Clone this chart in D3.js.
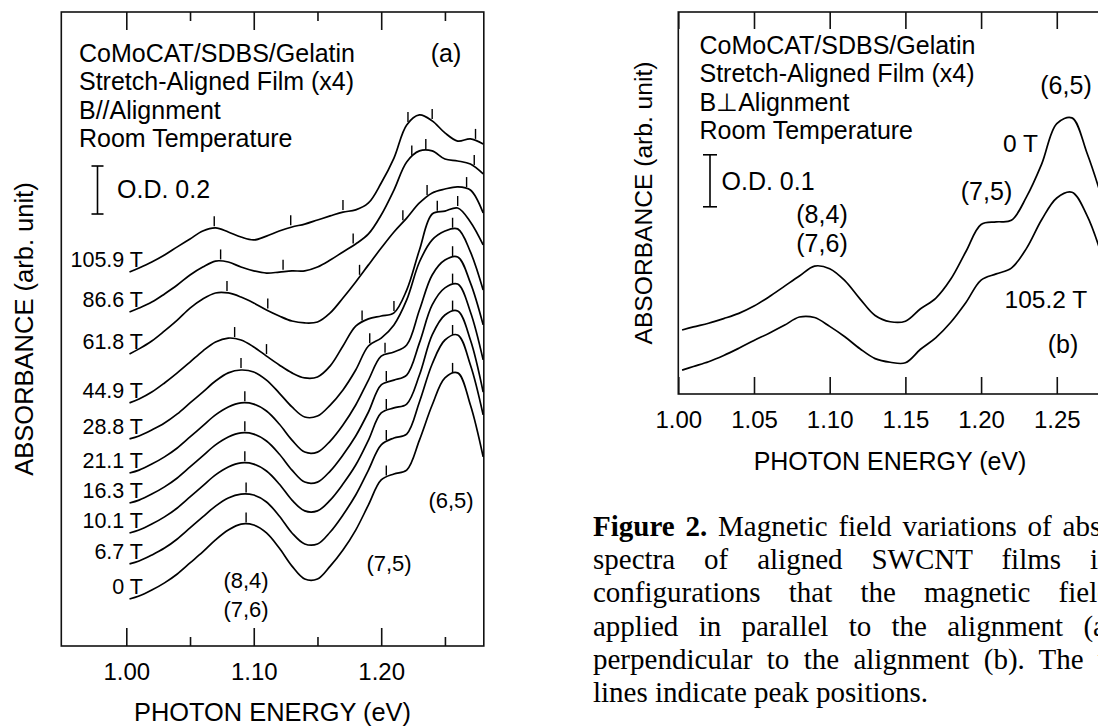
<!DOCTYPE html>
<html>
<head>
<meta charset="utf-8">
<script src="https://cdn.jsdelivr.net/npm/d3@7.9.0/dist/d3.min.js"></script>
<style>
  body { margin: 0; background: #fff; width: 1098px; height: 727px; overflow: hidden; position: relative; }
  svg { position: absolute; left: 0; top: 0; }
  text { font-family: "Liberation Sans", Arial, sans-serif; fill: #000; }
  .caption { position: absolute; left: 593px; top: 510px; width: 592px;
    font-family: "Liberation Serif", "Times New Roman", serif; font-size: 29px; line-height: 33.2px; color: #000; }
  .caption div { text-align: justify; text-align-last: justify; }
  .caption div.last { text-align-last: left; }
</style>
</head>
<body>
<svg id="chart"></svg>
<div class="caption">
  <div><b>Figure 2.</b> Magnetic field variations of absorption</div>
  <div>spectra of aligned SWCNT films in two</div>
  <div>configurations that the magnetic field was</div>
  <div>applied in parallel to the alignment (a), and</div>
  <div>perpendicular to the alignment (b). The vertical</div>
  <div class="last">lines indicate peak positions.</div>
</div>
<script>
// photon energy grid (eV), shared by every spectrum
const energies = [1.0025, 1.01, 1.02, 1.03, 1.04, 1.05, 1.06, 1.07, 1.08, 1.09, 1.10, 1.11, 1.12, 1.13, 1.14,
  1.15, 1.16, 1.17, 1.18, 1.19, 1.20, 1.21, 1.22, 1.23, 1.24, 1.25, 1.26, 1.27, 1.28];

// panel (a): B // alignment, stacked absorbance (O.D., offset included)
const fieldsA = ['0 T', '6.7 T', '10.1 T', '16.3 T', '21.1 T', '28.8 T', '44.9 T', '61.8 T', '86.6 T', '105.9 T'];
const absA_0 = [0.196, 0.208, 0.233, 0.263, 0.300, 0.346, 0.392, 0.442, 0.483, 0.508, 0.504, 0.471, 0.408, 0.333, 0.279,
  0.279, 0.333, 0.400, 0.483, 0.588, 0.692, 0.717, 0.733, 0.858, 1.004, 1.117, 1.138, 1.004, 0.788];
const absA_6_7 = [0.342, 0.354, 0.379, 0.408, 0.446, 0.492, 0.538, 0.583, 0.617, 0.633, 0.629, 0.600, 0.542, 0.471, 0.425,
  0.425, 0.475, 0.546, 0.629, 0.733, 0.838, 0.867, 0.883, 1.017, 1.175, 1.275, 1.296, 1.171, 0.963];
const absA_10_1 = [0.471, 0.483, 0.508, 0.538, 0.575, 0.621, 0.667, 0.713, 0.746, 0.763, 0.758, 0.729, 0.675, 0.608, 0.563,
  0.563, 0.608, 0.675, 0.754, 0.858, 0.971, 0.992, 1.008, 1.129, 1.296, 1.379, 1.396, 1.275, 1.058];
const absA_16_3 = [0.596, 0.608, 0.633, 0.663, 0.700, 0.746, 0.792, 0.838, 0.871, 0.888, 0.883, 0.854, 0.800, 0.733, 0.683,
  0.683, 0.729, 0.796, 0.875, 0.975, 1.088, 1.108, 1.129, 1.263, 1.421, 1.492, 1.508, 1.392, 1.192];
const absA_21_1 = [0.721, 0.733, 0.758, 0.788, 0.825, 0.871, 0.917, 0.963, 0.996, 1.013, 1.008, 0.979, 0.925, 0.858, 0.808,
  0.808, 0.854, 0.921, 1.004, 1.108, 1.208, 1.225, 1.254, 1.400, 1.546, 1.608, 1.621, 1.513, 1.338];
const absA_28_8 = [0.863, 0.875, 0.900, 0.929, 0.967, 1.013, 1.058, 1.104, 1.138, 1.150, 1.142, 1.108, 1.054, 0.996, 0.954,
  0.958, 1.004, 1.067, 1.150, 1.250, 1.283, 1.338, 1.442, 1.600, 1.692, 1.729, 1.738, 1.642, 1.483];
const absA_44_9 = [1.013, 1.029, 1.058, 1.096, 1.138, 1.183, 1.229, 1.267, 1.283, 1.275, 1.246, 1.208, 1.171, 1.138, 1.117,
  1.121, 1.167, 1.250, 1.333, 1.363, 1.375, 1.388, 1.483, 1.650, 1.800, 1.812, 1.825, 1.767, 1.671];
const absA_61_8 = [1.217, 1.238, 1.271, 1.313, 1.358, 1.408, 1.446, 1.471, 1.471, 1.454, 1.429, 1.400, 1.375, 1.354, 1.346,
  1.350, 1.388, 1.450, 1.517, 1.588, 1.658, 1.725, 1.783, 1.846, 1.888, 1.904, 1.913, 1.900, 1.804];
const absA_86_6 = [1.392, 1.408, 1.433, 1.467, 1.504, 1.546, 1.579, 1.604, 1.600, 1.579, 1.563, 1.554, 1.558, 1.563, 1.563,
  1.579, 1.608, 1.642, 1.675, 1.717, 1.796, 1.900, 2.017, 2.063, 2.063, 2.029, 2.021, 2.008, 1.967];
const absA_105_9 = [1.558, 1.575, 1.600, 1.629, 1.663, 1.696, 1.729, 1.742, 1.725, 1.704, 1.692, 1.708, 1.729, 1.746, 1.758,
  1.775, 1.792, 1.808, 1.817, 1.846, 1.929, 2.033, 2.171, 2.213, 2.188, 2.138, 2.104, 2.113, 2.092];

// peak positions (eV) marked by the short vertical lines
const peaksA_0 = [1.094, 1.204, 1.256];
const peaksA_6_7 = [1.094, 1.204, 1.256];
const peaksA_10_1 = [1.093, 1.204, 1.256];
const peaksA_16_3 = [1.093, 1.204, 1.256];
const peaksA_21_1 = [1.093, 1.203, 1.256];
const peaksA_28_8 = [1.090, 1.191, 1.256];
const peaksA_44_9 = [1.085, 1.110, 1.185, 1.210, 1.244, 1.260];
const peaksA_61_8 = [1.079, 1.111, 1.183, 1.217, 1.236, 1.267];
const peaksA_86_6 = [1.074, 1.123, 1.178, 1.224, 1.235, 1.273];
const peaksA_105_9 = [1.069, 1.129, 1.170, 1.221, 1.240, 1.274];

// panel (b): B perpendicular to alignment
const fieldsB = ['0 T', '105.2 T'];
const absB_0 = [0.123, 0.129, 0.136, 0.145, 0.155, 0.169, 0.187, 0.207, 0.227, 0.246, 0.241, 0.218, 0.183, 0.151, 0.139,
  0.140, 0.164, 0.184, 0.221, 0.274, 0.326, 0.331, 0.334, 0.379, 0.442, 0.520, 0.531, 0.463, 0.375];
const absB_105_2 = [0.046, 0.053, 0.062, 0.074, 0.088, 0.103, 0.117, 0.132, 0.148, 0.147, 0.130, 0.110, 0.087, 0.068, 0.061,
  0.060, 0.086, 0.108, 0.138, 0.176, 0.219, 0.231, 0.242, 0.280, 0.335, 0.377, 0.388, 0.343, 0.264];

const seriesA = [absA_0, absA_6_7, absA_10_1, absA_16_3, absA_21_1, absA_28_8, absA_44_9, absA_61_8, absA_86_6, absA_105_9];
const peaksA = [peaksA_0, peaksA_6_7, peaksA_10_1, peaksA_16_3, peaksA_21_1, peaksA_28_8, peaksA_44_9, peaksA_61_8, peaksA_86_6, peaksA_105_9];

const svg = d3.select('#chart').attr('width', 1098).attr('height', 727);

// value of a spectrum at energy e (linear between grid points)
function valueAt(vals, e) {
  const i = Math.max(1, Math.min(energies.length - 1, d3.bisectLeft(energies, e)));
  const t = (e - energies[i - 1]) / (energies[i] - energies[i - 1]);
  return vals[i - 1] + t * (vals[i] - vals[i - 1]);
}

function drawFrame(g, x, y, majors, minors, majLen, minLen, fontSize) {
  const [x0, x1] = x.range();
  const [y0, y1] = y.range();
  g.append('rect').attr('x', x0).attr('y', y1).attr('width', x1 - x0).attr('height', y0 - y1)
    .attr('fill', 'none').attr('stroke', '#111').attr('stroke-width', 1.6);

  const bottom = g.append('g').attr('transform', `translate(0,${y0})`)
    .call(d3.axisBottom(x).tickValues(majors).tickSize(-majLen).tickPadding(17).tickFormat(d3.format('.2f')));
  g.append('g').attr('transform', `translate(0,${y1})`)
    .call(d3.axisTop(x).tickValues(majors).tickSize(-majLen).tickFormat(''));
  if (minors.length) {
    g.append('g').attr('transform', `translate(0,${y0})`).call(d3.axisBottom(x).tickValues(minors).tickSize(-minLen).tickFormat(''));
    g.append('g').attr('transform', `translate(0,${y1})`).call(d3.axisTop(x).tickValues(minors).tickSize(-minLen).tickFormat(''));
  }
  g.selectAll('.domain').remove();
  g.selectAll('.tick line').attr('stroke', '#111').attr('stroke-width', 1.6);
  bottom.selectAll('.tick text').attr('font-size', fontSize).attr('font-family', '"Liberation Sans", Arial, sans-serif').attr('fill', '#000');
}

function drawSpectrum(g, x, y, vals) {
  const line = d3.line().x((d, i) => x(energies[i])).y(d => y(d)).curve(d3.curveCatmullRom.alpha(0.5));
  g.append('path').attr('d', line(vals)).attr('fill', 'none').attr('stroke', '#000').attr('stroke-width', 1.7)
    .attr('stroke-linejoin', 'round');
}

function drawScaleBar(g, x, yTop, yBot, cap) {
  g.append('line').attr('x1', x).attr('x2', x).attr('y1', yTop).attr('y2', yBot).attr('stroke', '#000').attr('stroke-width', 1.6);
  [yTop, yBot].forEach(v => g.append('line').attr('x1', x - cap).attr('x2', x + cap).attr('y1', v).attr('y2', v)
    .attr('stroke', '#000').attr('stroke-width', 1.6));
}

function addText(g, str, x, y, size, anchor) {
  return g.append('text').attr('x', x).attr('y', y).attr('font-size', size).attr('text-anchor', anchor || 'start').text(str);
}

// ---------------- panel (a) ----------------
const xA = d3.scaleLinear().domain([0.949, 1.2805]).range([61.3, 483.8]);
const yA = d3.scaleLinear().domain([0, 2.6417]).range([646, 12]);
const gA = svg.append('g');
drawFrame(gA, xA, yA, [1.0, 1.1, 1.2], [1.05, 1.15, 1.25], 18, 9, 24);

seriesA.forEach((vals, k) => {
  drawSpectrum(gA, xA, yA, vals);
  peaksA[k].forEach(e => {
    const py = yA(valueAt(vals, e));
    gA.append('line').attr('x1', xA(e)).attr('x2', xA(e)).attr('y1', py - 2).attr('y2', py - 12)
      .attr('stroke', '#000').attr('stroke-width', 1.4);
  });
  addText(gA, fieldsA[k], 143, yA(vals[0]) - 5, 21.5, 'end');
});

['CoMoCAT/SDBS/Gelatin', 'Stretch-Aligned Film (x4)', 'B//Alignment', 'Room Temperature']
  .forEach((s, i) => addText(gA, s, 79, 62 + i * 28.4, 25));
addText(gA, '(a)', 446, 62, 25, 'middle');
drawScaleBar(gA, 97.5, yA(2.0), yA(1.8), 6);
addText(gA, 'O.D. 0.2', 117, 198, 25);
addText(gA, '(8,4)', 246, 588, 22, 'middle');
addText(gA, '(7,6)', 246, 617, 22, 'middle');
addText(gA, '(7,5)', 389, 571, 22, 'middle');
addText(gA, '(6,5)', 451, 508, 22, 'middle');
addText(gA, 'PHOTON ENERGY (eV)', 272.5, 721, 25.4, 'middle');
gA.append('text').attr('transform', 'translate(33,329) rotate(-90)').attr('text-anchor', 'middle')
  .attr('font-size', 25.5).text('ABSORBANCE (arb. unit)');

// ---------------- panel (b) ----------------
const xB = d3.scaleLinear().domain([1.0, 1.28]).range([678.3, 1102.2]);
const yB = d3.scaleLinear().domain([0, 0.7346]).range([394, 12]);
const gB = svg.append('g');
drawFrame(gB, xB, yB, [1.0, 1.05, 1.1, 1.15, 1.2, 1.25], [], 17, 0, 24);

[absB_0, absB_105_2].forEach(vals => drawSpectrum(gB, xB, yB, vals));

['CoMoCAT/SDBS/Gelatin', 'Stretch-Aligned Film (x4)', 'B\u22A5Alignment', 'Room Temperature']
  .forEach((s, i) => addText(gB, s, 699.5, 53.5 + i * 28.6, 25));
drawScaleBar(gB, 710, yB(0.46), yB(0.36), 7);
addText(gB, 'O.D. 0.1', 721.5, 190, 25);
addText(gB, '(8,4)', 822, 223, 25, 'middle');
addText(gB, '(7,6)', 822, 252, 25, 'middle');
addText(gB, '(7,5)', 986.5, 200, 25, 'middle');
addText(gB, '(6,5)', 1066, 94, 25, 'middle');
addText(gB, fieldsB[0], 1038, 152, 24.5, 'end');
addText(gB, fieldsB[1], 1004.5, 308, 24.5);
addText(gB, '(b)', 1063, 353, 25, 'middle');
addText(gB, 'PHOTON ENERGY (eV)', 890, 470, 25, 'middle');
gB.append('text').attr('transform', 'translate(652,203) rotate(-90)').attr('text-anchor', 'middle')
  .attr('font-size', 24.6).text('ABSORBANCE (arb. unit)');
</script>
</body>
</html>
